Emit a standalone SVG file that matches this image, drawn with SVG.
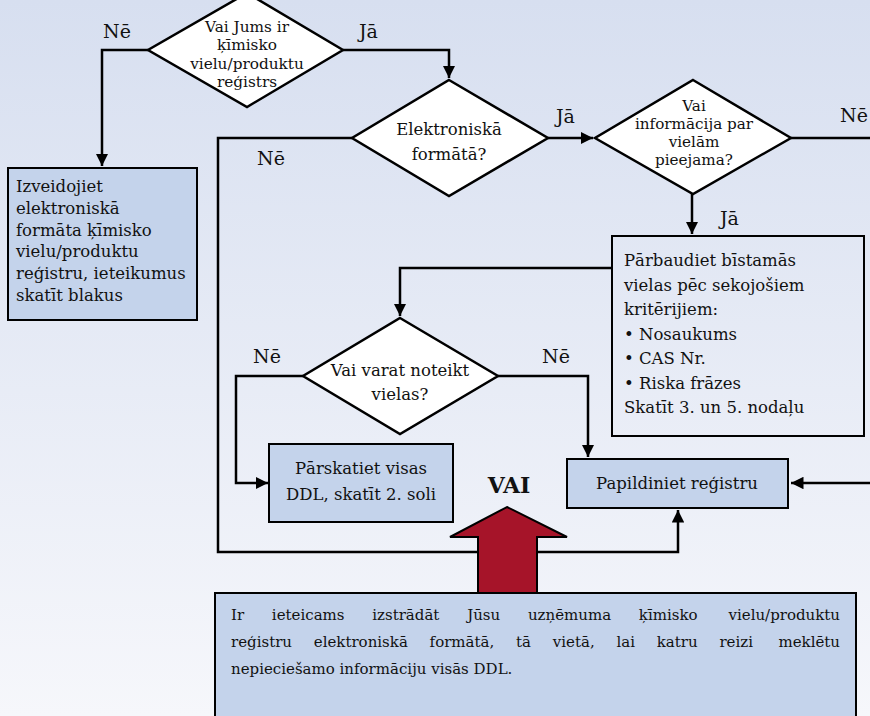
<svg xmlns="http://www.w3.org/2000/svg" width="870" height="716" viewBox="0 0 870 716" font-family="'DejaVu Serif', serif">
<defs>
<linearGradient id="bg" x1="0" y1="0" x2="0" y2="1">
<stop offset="0" stop-color="#d7dff0"/>
<stop offset="1" stop-color="#f6f7fb"/>
</linearGradient>
<marker id="ahb" viewBox="0 0 10 10" refX="10" refY="5" markerWidth="5" markerHeight="5" orient="auto">
<path d="M0,0 L10,5 L0,10 z" fill="#000"/>
</marker>
</defs>
<style>
text{fill:#111;}
.lbl{font-size:19px;}
.dt{font-size:15.3px;text-anchor:middle;}
.dt3{font-size:15.2px;text-anchor:middle;}
.bt{font-size:16.5px;}
.ct{font-size:16.5px;text-anchor:middle;}
.pt{font-size:15px;}
.dia{fill:#fff;stroke:#000;stroke-width:2.5;}
.box{fill:#c4d3eb;stroke:#000;stroke-width:2;}
.con{fill:none;stroke:#000;stroke-width:2.5;}
</style>
<rect x="0" y="0" width="870" height="716" fill="url(#bg)"/>

<g id="connectors">
<polyline class="con" points="148,50 102,50 102,166" marker-end="url(#ahb)"/>
<polyline class="con" points="343,50 449,50 449,78" marker-end="url(#ahb)"/>
<polyline class="con" points="548,138 593,138" marker-end="url(#ahb)"/>
<polyline class="con" points="791,138 872,138"/>
<polyline class="con" points="692,194 692,234" marker-end="url(#ahb)"/>
<polyline class="con" points="612,268 400,268 400,316" marker-end="url(#ahb)"/>
<polyline class="con" points="303,376 236,376 236,483 268,483" marker-end="url(#ahb)"/>
<polyline class="con" points="498,376 588,376 588,457" marker-end="url(#ahb)"/>
<polyline class="con" points="872,483 791,483" marker-end="url(#ahb)"/>
<polyline class="con" points="352,138 218,138 218,552 678,552 678,510" marker-end="url(#ahb)"/>
</g>

<g id="labels">
<text class="lbl" x="103" y="38">Nē</text>
<text class="lbl" x="359" y="38">Jā</text>
<text class="lbl" x="257" y="165">Nē</text>
<text class="lbl" x="556" y="123">Jā</text>
<text class="lbl" x="840" y="122">Nē</text>
<text class="lbl" x="720" y="225">Jā</text>
<text class="lbl" x="253" y="363">Nē</text>
<text class="lbl" x="542" y="363">Nē</text>
</g>

<g id="d1">
<polygon class="dia" points="247,-7 343,50 247,107 148,50"/>
<text class="dt" x="247" y="32">Vai Jums ir</text>
<text class="dt" x="247" y="50">ķīmisko</text>
<text class="dt" x="247" y="69">vielu/produktu</text>
<text class="dt" x="247" y="87">reģistrs</text>
</g>

<g id="b1">
<rect class="box" x="8" y="168" width="189" height="152"/>
<text class="bt" x="16" y="192">Izveidojiet</text>
<text class="bt" x="16" y="214">elektroniskā</text>
<text class="bt" x="16" y="236">formāta ķīmisko</text>
<text class="bt" x="16" y="257">vielu/produktu</text>
<text class="bt" x="16" y="279">reģistru, ieteikumus</text>
<text class="bt" x="16" y="301">skatīt blakus</text>
</g>

<g id="d2">
<polygon class="dia" points="449,80 548,138 449,196 352,138"/>
<text class="ct" x="449" y="135">Elektroniskā</text>
<text class="ct" x="449" y="160">formātā?</text>
</g>

<g id="d3">
<polygon class="dia" points="693,80 791,138 693,194 595,138"/>
<text class="dt3" x="694" y="111">Vai</text>
<text class="dt3" x="694" y="129">informācija par</text>
<text class="dt3" x="694" y="147">vielām</text>
<text class="dt3" x="694" y="165">pieejama?</text>
</g>

<g id="b2">
<rect x="612" y="236" width="252" height="200" fill="none" stroke="#000" stroke-width="2"/>
<text class="bt" x="624" y="266">Pārbaudiet bīstamās</text>
<text class="bt" x="624" y="291">vielas pēc sekojošiem</text>
<text class="bt" x="624" y="315">kritērijiem:</text>
<text class="bt" x="624" y="340">• Nosaukums</text>
<text class="bt" x="624" y="364">• CAS Nr.</text>
<text class="bt" x="624" y="389">• Riska frāzes</text>
<text class="bt" x="624" y="413">Skatīt 3. un 5. nodaļu</text>
</g>

<g id="d4">
<polygon class="dia" points="400,318 498,376 400,434 303,376"/>
<text class="ct" x="400" y="376">Vai varat noteikt</text>
<text class="ct" x="400" y="400">vielas?</text>
</g>

<g id="b3">
<rect class="box" x="269" y="444" width="184" height="78"/>
<text class="ct" x="361" y="474">Pārskatiet visas</text>
<text class="ct" x="361" y="500">DDL, skatīt 2. soli</text>
</g>

<g id="b4">
<rect class="box" x="567" y="459" width="221" height="49"/>
<text class="ct" x="677" y="489">Papildiniet reģistru</text>
</g>

<g id="vai">
<text x="509" y="493" font-size="22" font-weight="bold" text-anchor="middle">VAI</text>
<polygon points="507,507 567,537 537,537 537,595 478,595 478,537 450,537" fill="#a61429" stroke="#000" stroke-width="2"/>
</g>

<g id="b5">
<rect class="box" x="215" y="593" width="641" height="140"/>
<text class="pt" x="231" y="620" word-spacing="23">Ir ieteicams izstrādāt Jūsu uzņēmuma ķīmisko <tspan x="840" text-anchor="end" word-spacing="0">vielu/produktu</tspan></text>
<text class="pt" x="231" y="647" word-spacing="17">reģistru elektroniskā formātā, tā vietā, lai katru reizi <tspan x="840" text-anchor="end" word-spacing="0">meklētu</tspan></text>
<text class="pt" x="231" y="674">nepieciešamo informāciju visās DDL.</text>
</g>
</svg>
